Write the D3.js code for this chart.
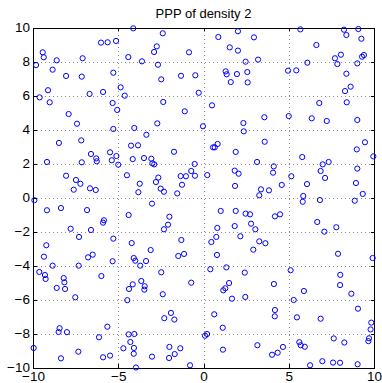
<!DOCTYPE html>
<html>
<head>
<meta charset="utf-8">
<script src="https://cdn.jsdelivr.net/npm/d3@7"></script>
<style>
  body { margin: 0; background: #fff; }
  svg { display: block; font-family: "Liberation Sans", Arial, Helvetica, sans-serif; }
</style>
</head>
<body>
<div class="ppp-chart"></div>
<script>
// Chart title and tick values
var chartTitle = "PPP of density 2";
var xTicks = [-10, -5, 0, 5, 10];
var yTicks = [-10, -8, -6, -4, -2, 0, 2, 4, 6, 8, 10];

// Point positions (x and y kept in matching order)
var pointX = [
  -4.12, -6.01, -5.62, -5.13, -9.43, -9.37, -8.61, -7.09, -4.41, -3.61, -9.82, -8.85, -8.06, -7.14, -5.29,
  -9.12, -9.61, -9.02, -6.68, -5.89, -4.86, -4.62, -5.33, -5.06, -7.91, -7.42, -5.29, -4.06, -3.35,
  -2.39, -2.74, -2.90, -0.85, -2.67, -2.48, -1.32, -0.48, 0.87, 2.02, 2.96, 1.54, 2.02, 2.47, 3.2,
  1.30, 1.36, 1.96, 2.57, 1.60, 2.59, -0.28, -2.36, -1.10, 0.50, 3.57, -2.71, -0.03, 2.34, 2.36,
  5.68, 8.24, 9.08, 8.38, 9.26, 6.62, 8.06, 7.71, 7.85, 6.09, 4.96, 5.44, 9.02, 9.30, 9.41,
  8.38, 8.63, 8.30, 6.79, 8.40, 5.0, 6.35, 7.23, 9.02,
  -7.17, -8.48, -6.60, -6.29, -6.26, -7.14, -9.18, -5.48, -5.38, -5.11, -5.0, -4.25, -3.84, -4.15, -3.49,
  -8.06, -7.48, -7.22, -7.61, -6.66, -6.32, -4.49, -3.74, -3.82, -9.92, -9.18, -8.36, -6.83, -5.84, -5.89,
  -4.39, -7.79, -6.60, -7.30, -5.29, -9.22, -4.21,
  -3.06, -3.0, -2.89, -1.73, 0.56, 0.66, 0.83, 1.89, 3.59, 3.14, -0.52, -0.72, -0.50, -1.34, -1.03,
  -1.26, -2.65, -2.79, -2.51, -2.32, -1.54, 0.22, 1.83, 2.06, 1.85, 3.37, 3.27, -3.02, -2.0, -2.08,
  -2.32, 1.01, 1.89, 2.47, 2.73, 0.81, 1.83, 2.79, 3.04, -3.10, -1.30, 0.75, 0.46, 2.16, 3.27, 3.63, 2.92,
  9.47, 8.99, 9.96, 5.79, 4.12, 4.08, 5.15, 6.99, 7.34, 6.87, 7.13, 9.02, 8.94, 6.07, 4.59,
  3.84, 5.85, 5.82, 6.83, 9.34, 8.87, 4.49, 4.19, 6.67, 7.79, 7.09,
  -9.36, -6.77, -6.50, -8.85, -7.32, -5.33, -4.09, -4.0, -3.37, -3.71, -9.63, -9.30, -9.26, -8.20, -8.16,
  -8.61, -8.12, -5.99, -7.52, -3.65, -3.45, -3.47, -4.15, -4.37, -4.47, -8.44, -8.50, -8.01, -5.64, -6.13,
  -4.39, -4.06, -4.29, -9.96, -7.34, -4.70, -4.08, -4.09, -8.36, -5.89, -5.48, -3.96,
  -1.48, -1.14, 0.79, -2.48, 0.40, 1.34, 2.42, -0.72, 1.50, 1.28, 1.16, 1.67, 2.45, -2.39, -1.91,
  -2.30, -1.71, 0.63, 1.13, 0.21, 0.09, -2.0, -1.36, -1.69, -2.02, -3.02, -0.79, 1.14, 3.16,
  7.89, 9.92, 5.11, 8.02, 8.01, 4.13, 5.89, 8.67, 5.29, 4.19, 4.18, 5.48, 6.87, 9.06, 9.84,
  9.80, 7.64, 8.26, 9.71, 9.67, 5.62, 5.70, 5.94, 4.66, 4.35, 4.02, 6.97, 7.60, 8.01, 6.25, 9.04
];
var pointY = [
  9.95, 9.11, 9.13, 9.21, 8.54, 8.25, 8.07, 8.19, 8.26, 8.01, 7.79, 7.52, 7.15, 7.11, 7.34,
  6.31, 5.89, 5.6, 6.09, 6.21, 6.48, 5.99, 5.56, 5.15, 4.91, 4.34, 4.03, 4.09, 3.69,
  9.66, 8.89, 8.56, 8.54, 7.81, 6.95, 7.16, 7.19, 9.44, 9.78, 9.42, 8.83, 8.64, 7.99, 8.11,
  7.42, 7.25, 7.26, 7.38, 6.79, 6.77, 6.16, 5.62, 5.07, 5.42, 4.72, 4.36, 4.19, 4.38, 3.89,
  9.89, 9.87, 9.91, 9.56, 9.34, 8.97, 8.40, 8.19, 7.85, 7.93, 7.46, 7.48, 7.89, 8.28, 8.38,
  7.28, 6.52, 6.26, 5.56, 5.6, 4.79, 4.66, 4.5, 4.56,
  3.36, 3.21, 2.56, 2.30, 2.13, 2.07, 2.09, 2.66, 2.19, 2.44, 1.93, 3.05, 3.07, 2.26, 2.32,
  1.28, 1.03, 0.81, 0.46, 0.54, 0.44, 1.31, 0.81, 0.31, -0.16, -0.75, -0.62, -0.74, -1.34, -1.48,
  -1.03, -1.84, -1.91, -2.32, -2.42, -2.81, -2.68,
  2.28, 2.01, 1.95, 2.69, 2.95, 2.95, 3.15, 2.68, 3.28, 2.09, 1.97, 1.56, 1.28, 1.26, 1.25,
  0.75, 1.17, 0.91, 0.52, 0.34, 0.24, 1.32, 1.58, 1.40, 0.68, 0.48, 0.13, -0.36, -1.13, -1.60,
  -1.87, -0.79, -0.79, -0.95, -0.99, -1.79, -1.68, -1.54, -1.87, -3.09, -2.5, -2.32, -2.62, -2.28, -2.58, -2.69, -3.07,
  3.25, 2.83, 2.42, 2.38, 1.83, 1.46, 1.25, 1.95, 2.09, 1.56, 1.15, 1.70, 0.85, 0.79, 0.74,
  0.42, 0.09, -0.25, -0.15, 0.21, -0.19, -0.99, -1.11, -1.44, -1.75, -2.01,
  -3.48, -3.52, -3.36, -4.01, -4.01, -3.75, -3.56, -3.72, -3.74, -4.01, -4.38, -4.56, -4.79, -4.74, -4.99,
  -5.32, -5.38, -4.62, -5.87, -4.91, -5.22, -5.42, -5.11, -5.38, -6.04, -7.69, -7.91, -7.92, -7.6, -8.22,
  -8.05, -8.03, -8.5, -8.85, -9.07, -8.87, -8.85, -9.19, -9.46, -9.40, -9.30, -10.0,
  -3.44, -3.32, -3.38, -4.40, -4.22, -4.11, -4.42, -5.01, -5.03, -5.34, -5.46, -5.95, -5.85, -5.69, -6.79,
  -7.10, -7.18, -6.87, -7.66, -8.03, -8.13, -8.79, -8.87, -9.21, -9.44, -9.36, -9.87, -8.95, -8.69,
  -3.31, -3.56, -4.28, -4.55, -5.15, -5.09, -5.5, -5.66, -6.03, -6.62, -6.99, -7.05, -7.13, -6.54, -7.36,
  -7.76, -8.29, -8.53, -8.28, -8.45, -8.51, -8.69, -8.78, -8.79, -9.13, -9.25, -9.63, -9.71, -9.72, -9.87, -9.81
];

drawChart(d3.select(".ppp-chart"));

function drawChart(divElement) {
  var chartWidth = 382;
  var chartHeight = 383;
  var margin = { top: 27.5, right: 8, bottom: 15.5, left: 33 };
  var lineColor = "#000";
  var gridColor = "#8a8a8a";
  var markerColor = "#0000ff";

  var svg = divElement.append("svg")
    .attr("width", chartWidth)
    .attr("height", chartHeight);

  var plotW = chartWidth - margin.left - margin.right;
  var plotH = chartHeight - margin.top - margin.bottom;

  var xScale = d3.scaleLinear().domain([-10, 10]).range([margin.left, margin.left + plotW]);
  var yScale = d3.scaleLinear().domain([-10, 10]).range([margin.top + plotH, margin.top]);

  // Dotted grid lines
  var grid = svg.append("g").attr("class", "grid");
  grid.append("g")
    .attr("transform", "translate(0," + (margin.top + plotH) + ")")
    .call(d3.axisBottom(xScale).tickValues(xTicks.slice(1, -1)).tickSize(-plotH).tickFormat(""));
  grid.append("g")
    .attr("transform", "translate(" + margin.left + ",0)")
    .call(d3.axisLeft(yScale).tickValues(yTicks.slice(1, -1)).tickSize(-plotW).tickFormat(""));
  grid.selectAll(".domain").remove();
  grid.selectAll(".tick line")
    .attr("stroke", gridColor)
    .attr("stroke-width", 1)
    .attr("stroke-dasharray", "1,3")
    .attr("shape-rendering", "crispEdges");

  // Axes: ticks point inward on all four sides
  var tickLen = 3.5;
  var axes = [
    { gen: d3.axisBottom(xScale).tickValues(xTicks), t: "translate(0," + (margin.top + plotH) + ")", labels: true, pad: 4 },
    { gen: d3.axisTop(xScale).tickValues(xTicks), t: "translate(0," + margin.top + ")", labels: false, pad: 4 },
    { gen: d3.axisLeft(yScale).tickValues(yTicks), t: "translate(" + margin.left + ",0)", labels: true, pad: 3 },
    { gen: d3.axisRight(yScale).tickValues(yTicks), t: "translate(" + (margin.left + plotW) + ",0)", labels: false, pad: 3 }
  ];
  axes.forEach(function(a) {
    var g = svg.append("g")
      .attr("transform", a.t)
      .call(a.gen.tickSizeInner(-tickLen).tickSizeOuter(0).tickPadding(a.pad));
    g.select(".domain").attr("stroke", lineColor).attr("shape-rendering", "crispEdges");
    g.selectAll(".tick line").attr("stroke", lineColor).attr("shape-rendering", "crispEdges");
    g.selectAll(".tick text")
      .attr("fill", lineColor)
      .style("font-size", "13.5px")
      .style("font-family", "'Liberation Sans', Arial, sans-serif");
    if (!a.labels) g.selectAll(".tick text").remove();
  });

  // Points
  svg.append("g")
    .selectAll("circle")
    .data(d3.range(pointX.length))
    .enter()
    .append("circle")
    .attr("cx", i => xScale(pointX[i]))
    .attr("cy", i => yScale(pointY[i]))
    .attr("r", 2.6)
    .attr("fill", "none")
    .attr("stroke", markerColor)
    .attr("stroke-width", 1);

  // Title
  svg.append("text")
    .attr("x", margin.left + plotW / 2)
    .attr("y", 18)
    .attr("text-anchor", "middle")
    .style("font-size", "13px")
    .attr("fill", lineColor)
    .text(chartTitle);
}
</script>
</body>
</html>
